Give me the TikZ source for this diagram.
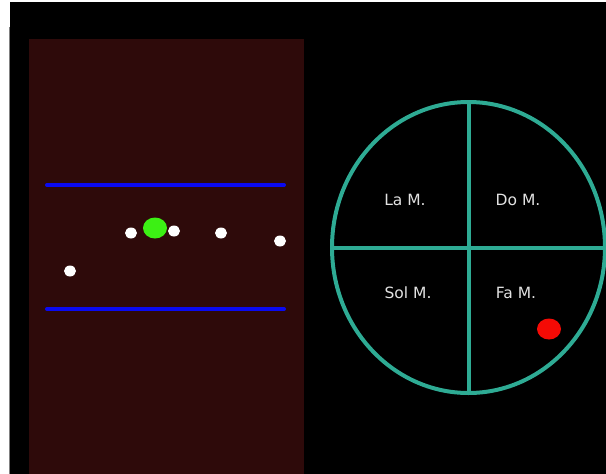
\documentclass[tikz,border=0pt]{standalone}
\usepackage{fontspec}
\setmainfont{DejaVu Sans}
\usetikzlibrary{shapes.geometric}
\definecolor{panelred}{HTML}{2E0A0A}
\definecolor{teal}{HTML}{2EAB94}
\definecolor{lbl}{HTML}{E2E2E2}
\definecolor{lineblue}{HTML}{0A0AF0}
\tikzset{
  wdot/.style={ellipse, fill=white, draw=none, minimum width=12pt, minimum height=11pt, inner sep=0pt},
  bigdot/.style={ellipse, draw=none, minimum width=24pt, minimum height=21pt, inner sep=0pt},
  rail/.style={draw=lineblue, line width=4pt, line cap=round},
  ring/.style={draw=teal, line width=4pt},
  key/.style={text=lbl, font=\fontsize{15.5}{18}\selectfont, inner sep=0pt}
}
\begin{document}
\begin{tikzpicture}[x=1pt,y=-1pt]
\useasboundingbox (0,0) rectangle (606,474);
\fill[white] (0,0) rectangle (606,474);
\fill[black] (9.5,2) rectangle (606,474);
\draw[gray, line width=1pt] (9.5,27) -- (9.5,474);
\fill[panelred] (29,39) rectangle (304,474);
% rails
\coordinate (r1a) at (47,185); \coordinate (r1b) at (284,185);
\coordinate (r2a) at (47,309); \coordinate (r2b) at (284,309);
\draw[rail] (r1a) -- (r1b);
\draw[rail] (r2a) -- (r2b);
% dots
\node[wdot] (d1) at (70,271) {};
\node[wdot] (d2) at (131,233) {};
\node[wdot] (d3) at (174,231) {};
\node[wdot] (d4) at (221,233) {};
\node[wdot] (d5) at (280,241) {};
\node[bigdot, fill={rgb,255:red,60;green,240;blue,20}] (g) at (155,228) {};
% ellipse
\node[ring, ellipse, minimum width=273pt, minimum height=291pt, inner sep=0pt] (e) at (468.5,247.5) {};
\draw[ring] (e.north) -- (e.south);
\draw[ring] (e.west) -- (e.east);
\node[key] (la) at (405,200) {La M.};
\node[key] (do) at (518,200) {Do M.};
\node[key] (sol) at (408,293) {Sol M.};
\node[key] (fa) at (516,293) {Fa M.};
\node[bigdot, fill={rgb,255:red,245;green,10;blue,5}] (r) at (549,329) {};
\end{tikzpicture}
\end{document}
